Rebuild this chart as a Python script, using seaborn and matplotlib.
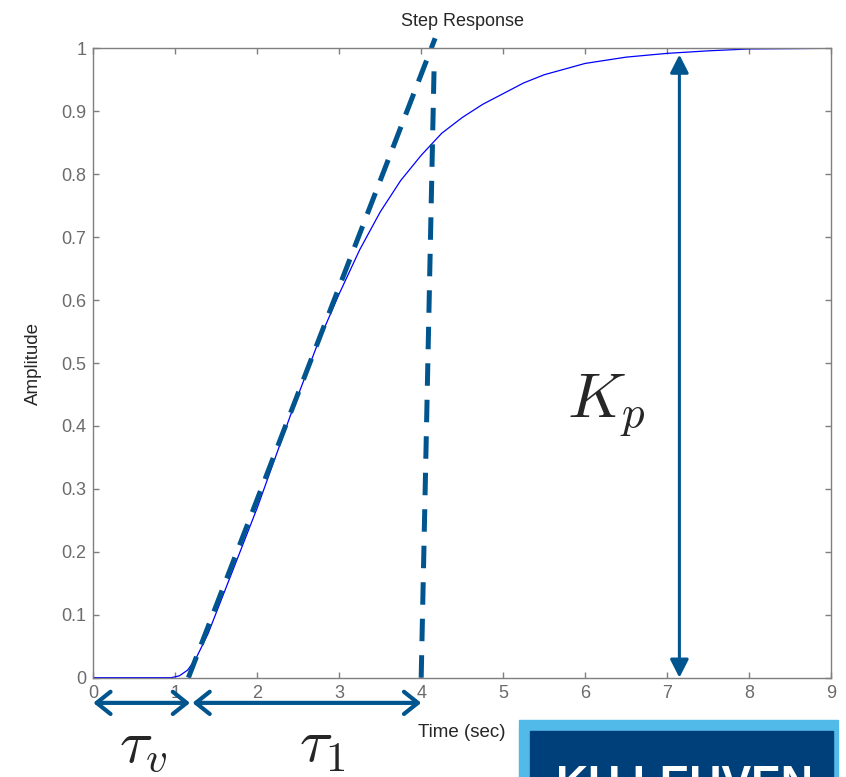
import numpy as np
import pandas as pd
import seaborn as sns
import matplotlib.pyplot as plt
from matplotlib.patches import Rectangle

# step response
time_s = [0, 0.95, 1.05, 1.15, 1.25, 1.4, 1.7, 2.0, 2.4, 2.75, 3.0, 3.25, 3.5,
          3.75, 4.0, 4.25, 4.5, 4.75, 5.0, 5.25, 5.5, 6.0, 6.5, 7.0, 7.5, 8.0, 9.0]
amplitude = [0, 0, 0.003, 0.012, 0.03, 0.07, 0.17, 0.27, 0.415, 0.535, 0.61,
             0.68, 0.74, 0.79, 0.83, 0.865, 0.89, 0.911, 0.928, 0.945, 0.958,
             0.976, 0.986, 0.992, 0.996, 0.999, 1.0]

# construction lines
tangent_x = [1.16, 4.17]
tangent_y = [0.0, 1.016]
vert_x = [4.0, 4.16]
vert_y = [0.0, 0.985]
kp_x = 7.15
kp_range = [0.0, 0.99]
tau_v_range = [0.0, 1.18]
tau_1_range = [1.21, 4.0]

x_ticks = list(range(10))
y_ticks = [0, 0.1, 0.2, 0.3, 0.4, 0.5, 0.6, 0.7, 0.8, 0.9, 1]
y_tick_labels = ["0", "0.1", "0.2", "0.3", "0.4", "0.5", "0.6", "0.7", "0.8", "0.9", "1"]

sns.set_style("ticks")
plt.rcParams["font.family"] = ["Liberation Sans", "DejaVu Sans"]
plt.rcParams["mathtext.fontset"] = "cm"

dark = "#00558f"
grey = "#7f7f7f"

df = pd.DataFrame({"t": time_s, "y": amplitude})

fig = plt.figure(figsize=(8.46, 7.77), dpi=100)
ax = fig.add_axes([0.1103, 0.1278, 0.872, 0.810])

sns.lineplot(data=df, x="t", y="y", ax=ax, color="#0000ff", linewidth=0.9)

ax.plot(tangent_x, tangent_y, color=dark, linewidth=3.6, dashes=(4.5, 2.6),
        clip_on=False, dash_capstyle="butt")
ax.plot(vert_x, vert_y, color=dark, linewidth=3.6, dashes=(4.5, 2.8),
        clip_on=False, dash_capstyle="butt")

ax.annotate("", xy=(kp_x, kp_range[1]), xytext=(kp_x, kp_range[0]),
            arrowprops=dict(arrowstyle="<|-|>,head_length=0.55,head_width=0.28",
                            color=dark, lw=2.2, mutation_scale=20,
                            shrinkA=0, shrinkB=0))

arrow_y = -0.040
for a, b in [tau_v_range, tau_1_range]:
    ax.annotate("", xy=(b, arrow_y), xytext=(a, arrow_y), annotation_clip=False,
                arrowprops=dict(arrowstyle="<->,head_length=0.5,head_width=0.4",
                                color=dark, lw=3, mutation_scale=20,
                                shrinkA=0, shrinkB=0))

ax.text(6.26, 0.413, r"$K_p$", fontsize=46, ha="center", va="baseline")
ax.text(0.61, -0.133, r"$\tau_v$", fontsize=44, ha="center", va="baseline", clip_on=False)
ax.text(2.79, -0.133, r"$\tau_1$", fontsize=44, ha="center", va="baseline", clip_on=False)

ax.set_xlim(0, 9)
ax.set_ylim(0, 1)
ax.set_xticks(x_ticks)
ax.set_yticks(y_ticks)
ax.set_yticklabels(y_tick_labels)
ax.tick_params(direction="in", length=4, width=1, top=True, right=True,
               color=grey, labelcolor="#6b6b6b", labelsize=13, pad=5)
for s in ax.spines.values():
    s.set_color(grey)
    s.set_linewidth(1)

ax.set_xlabel("Time (sec)", fontsize=13.5, labelpad=16)
ax.set_ylabel("Amplitude", fontsize=13.5, labelpad=14)
ax.set_title("Step Response", fontsize=13, pad=16)

# logo strip in the corner (cropped in the reference too)
fig.patches.append(Rectangle((519 / 846, 0), 319 / 846, 57 / 777,
                             transform=fig.transFigure, color="#52bae9", zorder=0))
fig.patches.append(Rectangle((530 / 846, 0), 303 / 846, 46 / 777,
                             transform=fig.transFigure, color="#00407a", zorder=0))
fig.text(684 / 846, -20 / 777, "KU LEUVEN", color="white", fontsize=32,
         fontweight="bold", ha="center", va="baseline")

fig.savefig("out.png", dpi=100)
